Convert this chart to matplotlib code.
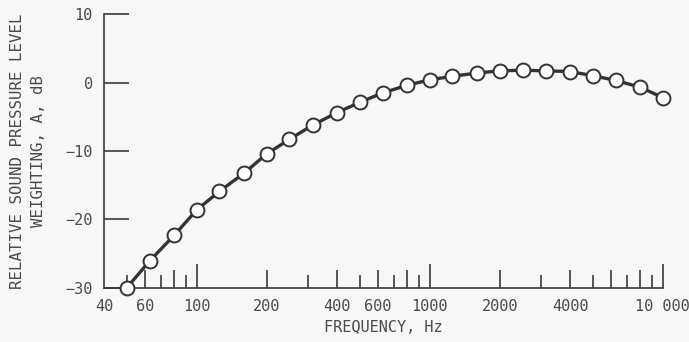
import numpy as np
import matplotlib
matplotlib.use("Agg")
import matplotlib.pyplot as plt

# one-third octave band centres and A-weighting
freq = [50, 63, 80, 100, 125, 160, 200, 250, 315, 400, 500, 630, 800,
        1000, 1250, 1600, 2000, 2500, 3150, 4000, 5000, 6300, 8000, 10000]
weight_db = [-30.0, -26.0, -22.3, -18.6, -15.9, -13.2, -10.4, -8.3, -6.2,
             -4.4, -2.9, -1.5, -0.4, 0.4, 0.9, 1.4, 1.7, 1.8, 1.7, 1.6,
             1.0, 0.3, -0.7, -2.2]

xtick_vals = [40, 60, 100, 200, 400, 600, 1000, 2000, 4000, 10000]
xtick_text = ['40', '60', '100', '200', '400', '600', '1000', '2000', '4000', '10 000']
yticks = [-30, -20, -10, 0, 10]

ink = '#3a3a3a'
txt = '#4a4a4a'
bg = '#f7f7f7'
plt.rcParams['font.family'] = ['DejaVu Sans Mono']

fig = plt.figure(figsize=(6.89, 3.42), dpi=100, facecolor=bg)
ax = fig.add_axes([0.151, 0.158, 0.811, 0.801], facecolor=bg)

ax.plot(freq, weight_db, color='#333333', lw=2.4, marker='o', ms=10,
        mfc='white', mec='#333333', mew=1.4, zorder=3, clip_on=False)

ax.set_xscale('log')
ax.set_xlim(40, 10000)
ax.set_ylim(-30, 10)

for s in ['top', 'right']:
    ax.spines[s].set_visible(False)
for s in ['left', 'bottom']:
    ax.spines[s].set_color(ink)
    ax.spines[s].set_linewidth(1.2)

# x ticks: marks drawn by hand, decades tall, 2/4/6/8 medium, 3/5/7/9 short
ax.set_xticks(xtick_vals)
ax.set_xticklabels(xtick_text)
ax.xaxis.set_minor_locator(matplotlib.ticker.NullLocator())
ax.tick_params(axis='x', length=0, pad=8, labelsize=11, labelcolor=txt)
trans = ax.get_xaxis_transform()
for dec in [10, 100, 1000]:
    for m in range(2, 11):
        f = m * dec
        if f < 50 or f > 10000:
            continue
        if m == 10:
            h = 0.088
        elif m % 2 == 0:
            h = 0.066
        else:
            h = 0.048
        ax.plot([f, f], [0, h], transform=trans, color=ink, lw=1.2,
                solid_capstyle='butt', clip_on=False, zorder=2)

ax.set_yticks(yticks)
ax.set_yticklabels(['\u221230', '\u221220', '\u221210', '0', '10'])
ax.tick_params(axis='y', direction='in', length=18, width=1.2, color=ink,
               pad=8, labelsize=11, labelcolor=txt)

ax.set_xlabel('FREQUENCY, Hz', fontsize=11, color=txt, labelpad=4)
ax.set_ylabel('RELATIVE SOUND PRESSURE LEVEL\nWEIGHTING, A, dB', fontsize=11.3,
              color=txt, labelpad=14, linespacing=1.5)

fig.savefig('out.png', dpi=100, facecolor=bg)
